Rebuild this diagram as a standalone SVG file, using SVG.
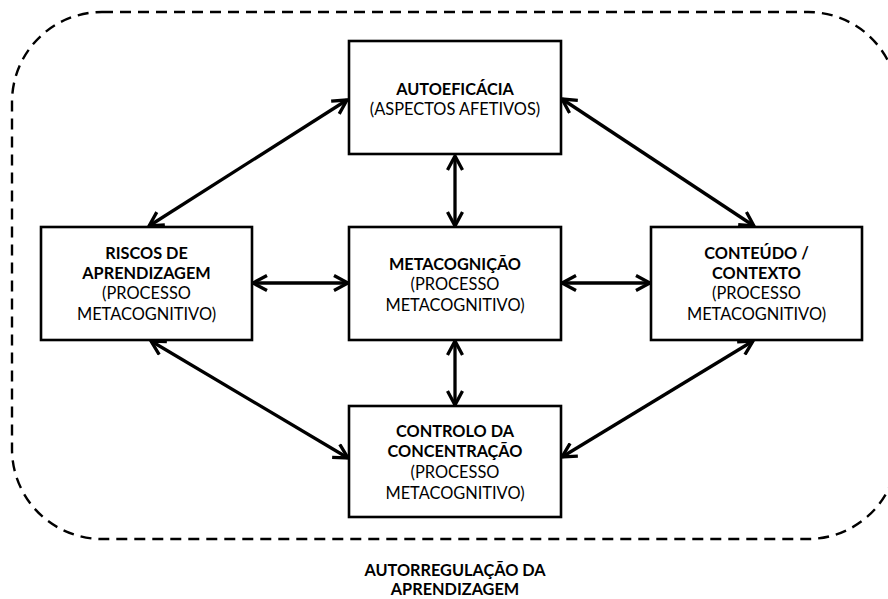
<svg xmlns="http://www.w3.org/2000/svg" width="888" height="599" viewBox="0 0 888 599">
<defs>
<marker id="arr" viewBox="0 0 18 18" refX="16" refY="9" markerWidth="18" markerHeight="18" markerUnits="userSpaceOnUse" orient="auto-start-reverse">
<path d="M2,1.5 L16,9 L2,16.5" fill="none" stroke="#000" stroke-width="3.3"/>
</marker>
</defs>
<style>
.box{fill:#fff;stroke:#000;stroke-width:2.6}
.b{font-family:Lato,"Liberation Sans",sans-serif;font-weight:bold;font-size:16.3px;text-anchor:middle;fill:#000}
.r{font-family:Lato,"Liberation Sans",sans-serif;font-size:16.4px;text-anchor:middle;fill:#000}
.c{fill:none;stroke:#000;stroke-width:3.3;marker-start:url(#arr);marker-end:url(#arr)}
</style>
<rect x="12" y="12" width="886" height="527" rx="90" ry="90" fill="none" stroke="#000" stroke-width="2.4" stroke-dasharray="11 7"/>
<g id="connectors">
<line class="c" x1="347" y1="100" x2="149" y2="226"/>
<line class="c" x1="562" y1="99" x2="754" y2="226"/>
<line class="c" x1="455" y1="156" x2="455" y2="226"/>
<line class="c" x1="253" y1="283" x2="348" y2="283"/>
<line class="c" x1="562" y1="283" x2="650" y2="283"/>
<line class="c" x1="455" y1="341" x2="455" y2="405"/>
<line class="c" x1="151" y1="341" x2="348" y2="458"/>
<line class="c" x1="753" y1="341" x2="562" y2="457"/>
</g>
<g id="autoeficacia">
<rect class="box" x="349" y="41" width="212" height="113"/>
<text class="b" x="455" y="95">AUTOEFICÁCIA</text>
<text class="r" x="455" y="115">(ASPECTOS AFETIVOS)</text>
</g>
<g id="riscos">
<rect class="box" x="41" y="227" width="211" height="113"/>
<text class="b" x="146.5" y="259">RISCOS DE</text>
<text class="b" x="146.5" y="279">APRENDIZAGEM</text>
<text class="r" x="146.5" y="299">(PROCESSO</text>
<text class="r" x="146.5" y="320">METACOGNITIVO)</text>
</g>
<g id="metacognicao">
<rect class="box" x="349" y="227" width="212" height="113"/>
<text class="b" x="455" y="270">METACOGNIÇÃO</text>
<text class="r" x="455" y="290">(PROCESSO</text>
<text class="r" x="455" y="311">METACOGNITIVO)</text>
</g>
<g id="conteudo">
<rect class="box" x="651" y="227" width="211" height="113"/>
<text class="b" x="756.5" y="259">CONTEÚDO /</text>
<text class="b" x="756.5" y="279">CONTEXTO</text>
<text class="r" x="756.5" y="299">(PROCESSO</text>
<text class="r" x="756.5" y="320">METACOGNITIVO)</text>
</g>
<g id="controlo">
<rect class="box" x="349" y="406" width="212" height="111"/>
<text class="b" x="455" y="437">CONTROLO DA</text>
<text class="b" x="455" y="457">CONCENTRAÇÃO</text>
<text class="r" x="455" y="478">(PROCESSO</text>
<text class="r" x="455" y="499">METACOGNITIVO)</text>
</g>
<g id="label">
<text class="b" x="455" y="576">AUTORREGULAÇÃO DA</text>
<text class="b" x="455" y="595">APRENDIZAGEM</text>
</g>
</svg>
